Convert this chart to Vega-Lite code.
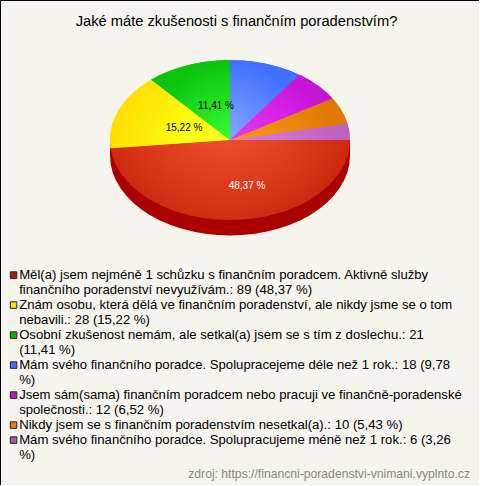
{
"$schema":"https://vega.github.io/schema/vega-lite/v6.json",
"width":479,"height":485,"padding":0,"autosize":{"type":"none"},
"background":"#f5f4ed",
"config":{"view":{"stroke":"#000","strokeWidth":1},"font":"Liberation Sans"},
"title":{"text":"Jaké máte zkušenosti s finančním poradenstvím?","font":"Liberation Sans","fontSize":14.7,"fontWeight":"normal","color":"#000","anchor":"middle","dx":-3,"offset":-29},
"datasets":{
"categories":[
{"k":"a","pocet":89,"podil":"48,37 %","label":"Měl(a) jsem nejméně 1 schůzku s finančním poradcem. Aktivně služby\nfinančního poradenství nevyužívám.: 89 (48,37 %)","lx":0.1417,"ly":-0.575},
{"k":"b","pocet":28,"podil":"15,22 %","label":"Znám osobu, která dělá ve finančním poradenství, ale nikdy jsme se o tom\nnebavili.: 28 (15,22 %)","lx":-0.3833,"ly":0.15},
{"k":"c","pocet":21,"podil":"11,41 %","label":"Osobní zkušenost nemám, ale setkal(a) jsem se s tím z doslechu.: 21\n(11,41 %)","lx":-0.1167,"ly":0.425},
{"k":"d","pocet":18,"podil":"9,78 %","label":"Mám svého finančního poradce. Spolupracejeme déle než 1 rok.: 18 (9,78\n%)"},
{"k":"e","pocet":12,"podil":"6,52 %","label":"Jsem sám(sama) finančním poradcem nebo pracuji ve finančně-poradenské\nspolečnosti.: 12 (6,52 %)"},
{"k":"f","pocet":10,"podil":"5,43 %","label":"Nikdy jsem se s finančním poradenstvím nesetkal(a).: 10 (5,43 %)"},
{"k":"g","pocet":6,"podil":"3,26 %","label":"Mám svého finančního poradce. Spolupracujeme méně než 1 rok.: 6 (3,26\n%)"}
],
"side":[
{"i":0,"x":1,"y":0},{"i":1,"x":1,"y":-0.194},{"i":2,"x":0.9945,"y":-0.2985},{"i":3,"x":0.9781,"y":-0.4019},{"i":4,"x":0.9511,"y":-0.503},{"i":5,"x":0.9135,"y":-0.6007},{"i":6,"x":0.866,"y":-0.694},{"i":7,"x":0.809,"y":-0.7818},{"i":8,"x":0.7431,"y":-0.8631},{"i":9,"x":0.6691,"y":-0.9371},{"i":10,"x":0.5878,"y":-1.003},{"i":11,"x":0.5,"y":-1.06},{"i":12,"x":0.4067,"y":-1.1075},{"i":13,"x":0.309,"y":-1.1451},{"i":14,"x":0.2079,"y":-1.1721},{"i":15,"x":0.1045,"y":-1.1885},{"i":16,"x":0,"y":-1.194},{"i":17,"x":-0.1045,"y":-1.1885},{"i":18,"x":-0.2079,"y":-1.1721},{"i":19,"x":-0.309,"y":-1.1451},{"i":20,"x":-0.4067,"y":-1.1075},{"i":21,"x":-0.5,"y":-1.06},{"i":22,"x":-0.5878,"y":-1.003},{"i":23,"x":-0.6691,"y":-0.9371},{"i":24,"x":-0.7431,"y":-0.8631},{"i":25,"x":-0.809,"y":-0.7818},{"i":26,"x":-0.866,"y":-0.694},{"i":27,"x":-0.9135,"y":-0.6007},{"i":28,"x":-0.9511,"y":-0.503},{"i":29,"x":-0.9781,"y":-0.4019},{"i":30,"x":-0.9945,"y":-0.2985},{"i":31,"x":-1,"y":-0.194},{"i":32,"x":-1,"y":0}
],
"outline":[
{"k":"a","i":0,"x":0,"y":0},{"k":"a","i":1,"x":1,"y":0},{"k":"a","i":2,"x":0.9945,"y":-0.1045},{"k":"a","i":3,"x":0.9781,"y":-0.2079},{"k":"a","i":4,"x":0.9511,"y":-0.309},{"k":"a","i":5,"x":0.9135,"y":-0.4067},{"k":"a","i":6,"x":0.866,"y":-0.5},{"k":"a","i":7,"x":0.809,"y":-0.5878},{"k":"a","i":8,"x":0.7431,"y":-0.6691},{"k":"a","i":9,"x":0.6691,"y":-0.7431},{"k":"a","i":10,"x":0.5878,"y":-0.809},{"k":"a","i":11,"x":0.5,"y":-0.866},{"k":"a","i":12,"x":0.4067,"y":-0.9135},{"k":"a","i":13,"x":0.309,"y":-0.9511},{"k":"a","i":14,"x":0.2079,"y":-0.9781},{"k":"a","i":15,"x":0.1045,"y":-0.9945},{"k":"a","i":16,"x":0,"y":-1},{"k":"a","i":17,"x":-0.1045,"y":-0.9945},{"k":"a","i":18,"x":-0.2079,"y":-0.9781},{"k":"a","i":19,"x":-0.309,"y":-0.9511},{"k":"a","i":20,"x":-0.4067,"y":-0.9135},{"k":"a","i":21,"x":-0.5,"y":-0.866},{"k":"a","i":22,"x":-0.5878,"y":-0.809},{"k":"a","i":23,"x":-0.6691,"y":-0.7431},{"k":"a","i":24,"x":-0.7431,"y":-0.6691},{"k":"a","i":25,"x":-0.809,"y":-0.5878},{"k":"a","i":26,"x":-0.866,"y":-0.5},{"k":"a","i":27,"x":-0.9135,"y":-0.4067},{"k":"a","i":28,"x":-0.9511,"y":-0.309},{"k":"a","i":29,"x":-0.9781,"y":-0.2079},{"k":"a","i":30,"x":-0.9947,"y":-0.1028},
{"k":"b","i":0,"x":0,"y":0},{"k":"b","i":1,"x":-0.9947,"y":-0.1028},{"k":"b","i":2,"x":-1,"y":0},{"k":"b","i":3,"x":-0.9945,"y":0.1045},{"k":"b","i":4,"x":-0.9781,"y":0.2079},{"k":"b","i":5,"x":-0.9511,"y":0.309},{"k":"b","i":6,"x":-0.9135,"y":0.4067},{"k":"b","i":7,"x":-0.866,"y":0.5},{"k":"b","i":8,"x":-0.809,"y":0.5878},{"k":"b","i":9,"x":-0.7431,"y":0.6691},{"k":"b","i":10,"x":-0.6691,"y":0.7431},{"k":"b","i":11,"x":-0.6574,"y":0.7535},
{"k":"c","i":0,"x":0,"y":0},{"k":"c","i":1,"x":-0.6574,"y":0.7535},{"k":"c","i":2,"x":-0.5878,"y":0.809},{"k":"c","i":3,"x":-0.5,"y":0.866},{"k":"c","i":4,"x":-0.4067,"y":0.9135},{"k":"c","i":5,"x":-0.309,"y":0.9511},{"k":"c","i":6,"x":-0.2079,"y":0.9781},{"k":"c","i":7,"x":-0.1045,"y":0.9945},{"k":"c","i":8,"x":0,"y":1},
{"k":"d","i":0,"x":0,"y":0},{"k":"d","i":1,"x":0,"y":1},{"k":"d","i":2,"x":0.1045,"y":0.9945},{"k":"d","i":3,"x":0.2079,"y":0.9781},{"k":"d","i":4,"x":0.309,"y":0.9511},{"k":"d","i":5,"x":0.4067,"y":0.9135},{"k":"d","i":6,"x":0.5,"y":0.866},{"k":"d","i":7,"x":0.5764,"y":0.8171},
{"k":"e","i":0,"x":0,"y":0},{"k":"e","i":1,"x":0.5764,"y":0.8171},{"k":"e","i":2,"x":0.5878,"y":0.809},{"k":"e","i":3,"x":0.6691,"y":0.7431},{"k":"e","i":4,"x":0.7431,"y":0.6691},{"k":"e","i":5,"x":0.809,"y":0.5878},{"k":"e","i":6,"x":0.8545,"y":0.5195},
{"k":"f","i":0,"x":0,"y":0},{"k":"f","i":1,"x":0.8545,"y":0.5195},{"k":"f","i":2,"x":0.866,"y":0.5},{"k":"f","i":3,"x":0.9135,"y":0.4067},{"k":"f","i":4,"x":0.9511,"y":0.309},{"k":"f","i":5,"x":0.9781,"y":0.2079},{"k":"f","i":6,"x":0.9789,"y":0.2045},
{"k":"g","i":0,"x":0,"y":0},{"k":"g","i":1,"x":0.9789,"y":0.2045},{"k":"g","i":2,"x":0.9945,"y":0.1045},{"k":"g","i":3,"x":1,"y":0}
]
},
"encoding":{
"x":{"field":"x","type":"quantitative","axis":null,"scale":{"domain":[-1.9167,2.075],"nice":false,"zero":false}},
"y":{"field":"y","type":"quantitative","axis":null,"scale":{"domain":[-4.3125,1.75],"nice":false,"zero":false}},
"order":{"field":"i","type":"quantitative"}
},
"layer":[
{"data":{"name":"side"},"mark":{"type":"line","fill":"#aa0000","stroke":"#aa0000","strokeWidth":0,"clip":false}},
{"data":{"name":"outline"},
"transform":[{"lookup":"k","from":{"data":{"name":"categories"},"key":"k","fields":["label"]}}],
"mark":{"type":"line","strokeWidth":0,"stroke":"transparent"},
"encoding":{"fill":{"field":"label","type":"nominal","sort":null,
"scale":{"range":["#b01808","#ffe800","#00bb00","#4070ff","#cc10cc","#ee7f00","#b050b0"]},
"legend":{"title":null,"orient":"none","legendX":7,"legendY":268.5,"symbolType":"square","symbolSize":42,"symbolStrokeColor":"#222","symbolStrokeWidth":1,"symbolOpacity":1,"labelFont":"Liberation Sans","labelFontSize":13.15,"labelColor":"#000","labelLimit":470,"labelOffset":-1,"labelBaseline":"alphabetic","rowPadding":1,"labelExpr":"split(datum.label,'\\n')","encoding":{"labels":{"lineHeight":{"value":15},"dy":{"value":4}}}}}}},
{"data":{"name":"outline"},"transform":[{"filter":"datum.k=='a'"}],"mark":{"type":"line","strokeWidth":0,"stroke":"transparent","fill":{"gradient":"radial","x1":0.49,"y1":0.16,"r1":0,"x2":0.49,"y2":0.16,"r2":0.72,"stops":[{"offset":0,"color":"#ff5a3c"},{"offset":1,"color":"#bc1a00"}]}}},
{"data":{"name":"outline"},"transform":[{"filter":"datum.k=='b'"}],"mark":{"type":"line","strokeWidth":0,"stroke":"transparent","fill":{"gradient":"radial","x1":1,"y1":0.88,"r1":0,"x2":1,"y2":0.88,"r2":1,"stops":[{"offset":0,"color":"#ffff30"},{"offset":0.4,"color":"#ffff14"},{"offset":1,"color":"#ffdf00"}]}}},
{"data":{"name":"outline"},"transform":[{"filter":"datum.k=='c'"}],"mark":{"type":"line","strokeWidth":0,"stroke":"transparent","fill":{"gradient":"radial","x1":1,"y1":1,"r1":0,"x2":1,"y2":1,"r2":1,"stops":[{"offset":0,"color":"#36ff36"},{"offset":1,"color":"#0cc40c"}]}}},
{"data":{"name":"outline"},"transform":[{"filter":"datum.k=='d'"}],"mark":{"type":"line","strokeWidth":0,"stroke":"transparent","fill":{"gradient":"radial","x1":0,"y1":1,"r1":0,"x2":0,"y2":1,"r2":1,"stops":[{"offset":0,"color":"#8caaff"},{"offset":1,"color":"#4070ff"}]}}},
{"data":{"name":"outline"},"transform":[{"filter":"datum.k=='e'"}],"mark":{"type":"line","strokeWidth":0,"stroke":"transparent","fill":{"gradient":"radial","x1":0,"y1":1,"r1":0,"x2":0,"y2":1,"r2":1,"stops":[{"offset":0,"color":"#f83cff"},{"offset":1,"color":"#c414d8"}]}}},
{"data":{"name":"outline"},"transform":[{"filter":"datum.k=='f'"}],"mark":{"type":"line","strokeWidth":0,"stroke":"transparent","fill":{"gradient":"radial","x1":0,"y1":1,"r1":0,"x2":0,"y2":1,"r2":1,"stops":[{"offset":0,"color":"#ffa829"},{"offset":1,"color":"#e07800"}]}}},
{"data":{"name":"outline"},"transform":[{"filter":"datum.k=='g'"}],"mark":{"type":"line","strokeWidth":0,"stroke":"transparent","fill":{"gradient":"radial","x1":0,"y1":1,"r1":0,"x2":0,"y2":1,"r2":1,"stops":[{"offset":0,"color":"#e493ea"},{"offset":1,"color":"#c060c0"}]}}},
{"data":{"name":"categories"},"transform":[{"filter":"datum.lx!=null"}],
"mark":{"type":"text","font":"Liberation Sans","fontSize":10,"align":"center","baseline":"middle"},
"encoding":{"x":{"field":"lx","type":"quantitative"},"y":{"field":"ly","type":"quantitative"},"order":{"value":null},"text":{"field":"podil","type":"nominal"},
"color":{"condition":{"test":"datum.pocet==89","value":"#ffffff"},"value":"#000000"}}},
{"data":{"values":[{"zdroj":"zdroj: https://financni-poradenstvi-vnimani.vyplnto.cz","x":2,"y":-4.175}]},
"mark":{"type":"text","font":"Liberation Sans","fontSize":12.17,"align":"right","baseline":"middle","color":"#888888"},
"encoding":{"order":{"value":null},"text":{"field":"zdroj","type":"nominal"}}}
]
}
